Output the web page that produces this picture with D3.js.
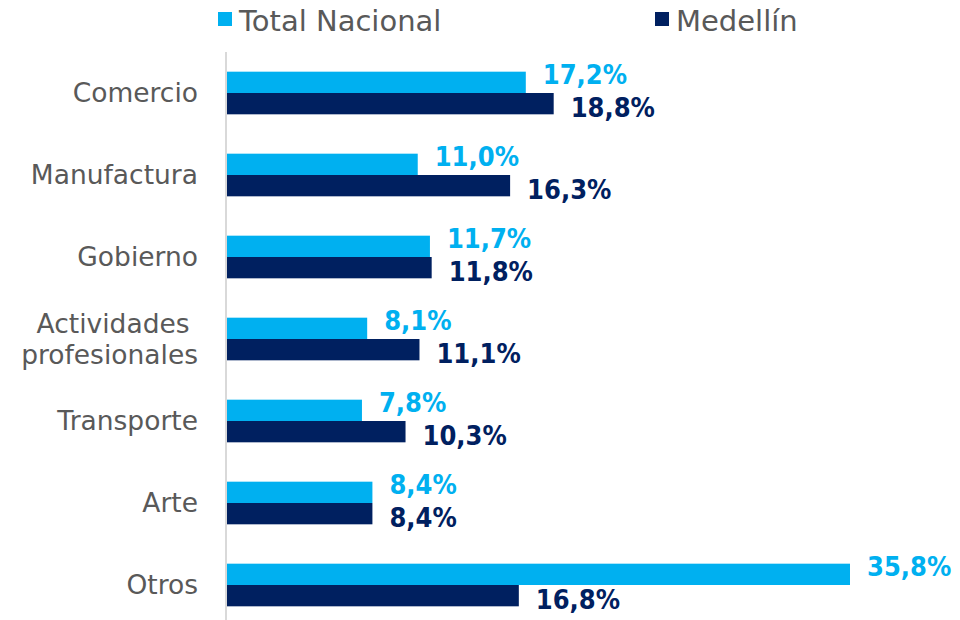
<!DOCTYPE html>
<html>
<head>
<meta charset="utf-8">
<script src="https://cdn.jsdelivr.net/npm/d3@7"></script>
<style>
  body { margin: 0; background: #fff; }
  .cat { font-family: "DejaVu Sans", sans-serif; fill: #595959; }
  .val { font-family: "Liberation Sans Narrow", "DejaVu Sans Condensed", sans-serif; font-weight: bold; }
</style>
</head>
<body>
<script>
//categories and series
var categories = ["Comercio", "Manufactura", "Gobierno", "Actividades profesionales", "Transporte", "Arte", "Otros"];
var catLines = [["Comercio"], ["Manufactura"], ["Gobierno"], ["Actividades ", "profesionales"], ["Transporte"], ["Arte"], ["Otros"]];
var totalNacional = [17.2, 11.0, 11.7, 8.1, 7.8, 8.4, 35.8];
var medellin = [18.8, 16.3, 11.8, 11.1, 10.3, 8.4, 16.8];
var seriesNames = ["Total Nacional", "Medellín"];
var colors = ["#00b0f0", "#002060"];

var width = 960, height = 620;
var plotLeft = 226, plotTop = 52;

var svg = d3.select("body").append("svg")
  .attr("width", width)
  .attr("height", height);

var x = d3.scaleLinear().domain([0, 35.8]).range([plotLeft, 850]);
var y = d3.scaleBand().domain(categories).range([plotTop, plotTop + 82 * 7]).paddingInner(0.48).paddingOuter(0.24);
var ySub = d3.scaleBand().domain([0, 1]).range([0, y.bandwidth()]);

//axis line
svg.append("line")
  .attr("x1", plotLeft).attr("x2", plotLeft)
  .attr("y1", plotTop).attr("y2", height)
  .attr("stroke", "#d9d9d9").attr("stroke-width", 2);

var rows = categories.map(function(c, i) {
  return { cat: c, lines: catLines[i], vals: [totalNacional[i], medellin[i]] };
});

var g = svg.selectAll(".row").data(rows).enter().append("g")
  .attr("class", "row")
  .attr("transform", function(d) { return "translate(0," + y(d.cat) + ")"; });

g.selectAll("rect").data(function(d) { return d.vals; }).enter().append("rect")
  .attr("x", x(0) + 1)
  .attr("y", function(d, i) { return ySub(i); })
  .attr("width", function(d) { return x(d) - x(0) - 1; })
  .attr("height", ySub.bandwidth())
  .attr("fill", function(d, i) { return colors[i]; });

//value labels
g.selectAll(".val").data(function(d) { return d.vals; }).enter().append("text")
  .attr("class", "val")
  .attr("x", function(d) { return x(d) + 17; })
  .attr("y", function(d, i) { return ySub(i) + ySub.bandwidth() / 2 + (i == 0 ? 2 : 13); })
  .attr("font-size", 27)
  .attr("fill", function(d, i) { return colors[i]; })
  .text(function(d) { return d.toFixed(1).replace(".", ",") + "%"; });

//category labels
g.append("text")
  .attr("class", "cat")
  .attr("text-anchor", "end")
  .attr("font-size", 26.5)
  .attr("x", 198)
  .attr("y", function(d) { return y.bandwidth() / 2 + 9 - (d.lines.length - 1) * 15; })
  .selectAll("tspan").data(function(d) { return d.lines; }).enter().append("tspan")
  .attr("x", 198)
  .attr("dy", function(d, i) { return i == 0 ? 0 : 31; })
  .text(function(d) { return d; });

//legend
var legX = [218, 655];
var leg = svg.selectAll(".leg").data(seriesNames).enter().append("g")
  .attr("class", "leg")
  .attr("transform", function(d, i) { return "translate(" + legX[i] + ",12)"; });
leg.append("rect").attr("width", 14).attr("height", 14)
  .attr("fill", function(d, i) { return colors[i]; });
leg.append("text")
  .attr("class", "cat")
  .attr("x", 21).attr("y", 19)
  .attr("font-size", 29)
  .text(function(d) { return d; });
</script>
</body>
</html>
